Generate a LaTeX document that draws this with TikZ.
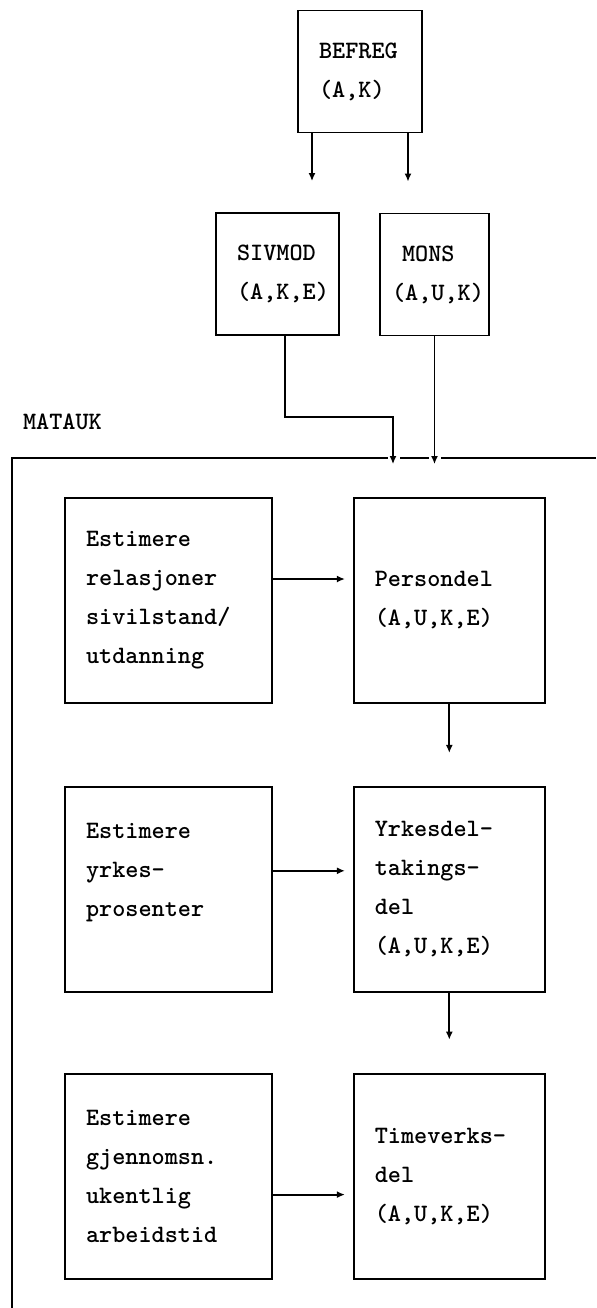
\documentclass[tikz,border=0pt]{standalone}
\usepackage{tikz}
\usetikzlibrary{arrows.meta,positioning}
\newcommand\tekst{\ttfamily\bfseries\fontsize{12.5}{19.5}\selectfont}
\tikzset{
  >={Latex[length=4pt,width=3.5pt]},
  boks/.style={draw, line width=0.9pt, align=left, inner xsep=10.5pt, inner ysep=0pt, font=\tekst},
  topp/.style={boks, text width=41pt, minimum height=61pt},
  venstre/.style={boks, text width=82.5pt, minimum height=102.5pt},
  hoyre/.style={boks, text width=74.5pt, minimum height=102.5pt},
  pil/.style={->, line width=0.9pt},
}
\begin{document}
\begin{tikzpicture}[x=0.5pt,y=-0.5pt]
  \useasboundingbox (0,0) rectangle (596,1308);

  % Input models
  \node[topp]                   (befreg) at (360,71.5)  {BEFREG\\(A,K)};
  \node[topp, text width=40.5pt] (sivmod) at (277.5,274) {SIVMOD\\(A,K,E)};
  \node[topp, inner xsep=6pt, text width=42.5pt] (mons) at (434.5,274.5) {\hspace*{5pt}MONS\\(A,U,K)};

  \node[anchor=west, font=\tekst] (matauk) at (16,422) {MATAUK};

  % MATAUK blocks
  \node[venstre]                     (est1) at (168.5,600.5) {Estimere\\relasjoner\\sivilstand/\\utdanning};
  \node[hoyre, right=40pt of est1]   (pers)  {Persondel\\(A,U,K,E)};
  \node[venstre, below=41pt of est1] (est2)  {Estimere\\yrkes-\\prosenter\\\mbox{}};
  \node[hoyre, right=40pt of est2]   (yrk)   {Yrkesdel-\\takings-\\del\\(A,U,K,E)};
  \node[venstre, below=40pt of est2] (est3)  {Estimere\\gjennomsn.\\ukentlig\\arbeidstid};
  \node[hoyre, right=40pt of est3]   (time)  {Timeverks-\\del\\(A,U,K,E)};

  % Frame
  \draw[line width=0.9pt] (12,1308) -- (12,458) -- (388,458);
  \draw[line width=0.9pt] (400,458) -- (429,458);
  \draw[line width=0.9pt] (441,458) -- (596,458);

  % Edges
  \draw[pil, shorten >=15.5pt] ([xshift=-24pt]befreg.south) -- ([xshift=-24pt]befreg.south |- sivmod.north);
  \draw[pil, shorten >=15.5pt] ([xshift=24pt]befreg.south) -- ([xshift=24pt]befreg.south |- mons.north);
  \coordinate (knekk) at (393,417);
  \draw[pil, shorten >=16.5pt] ([xshift=3.75pt]sivmod.south) |- (knekk) -- (knekk |- pers.north);
  \draw[pil, shorten >=16.5pt] (mons.south) -- (mons.south |- pers.north);

  \draw[pil, shorten >=4pt] ([yshift=10.75pt]est1.east) -- ([yshift=10.75pt]est1.east -| pers.west);
  \draw[pil, shorten >=4pt] ([yshift=9.25pt]est2.east) -- ([yshift=9.25pt]est2.east -| yrk.west);
  \draw[pil, shorten >=4pt] ([yshift=-9.25pt]est3.east) -- ([yshift=-9.25pt]est3.east -| time.west);

  \draw[pil, shorten >=16.5pt] (pers) -- (yrk);
  \draw[pil, shorten >=16.5pt] (yrk) -- (time);

\end{tikzpicture}
\end{document}
